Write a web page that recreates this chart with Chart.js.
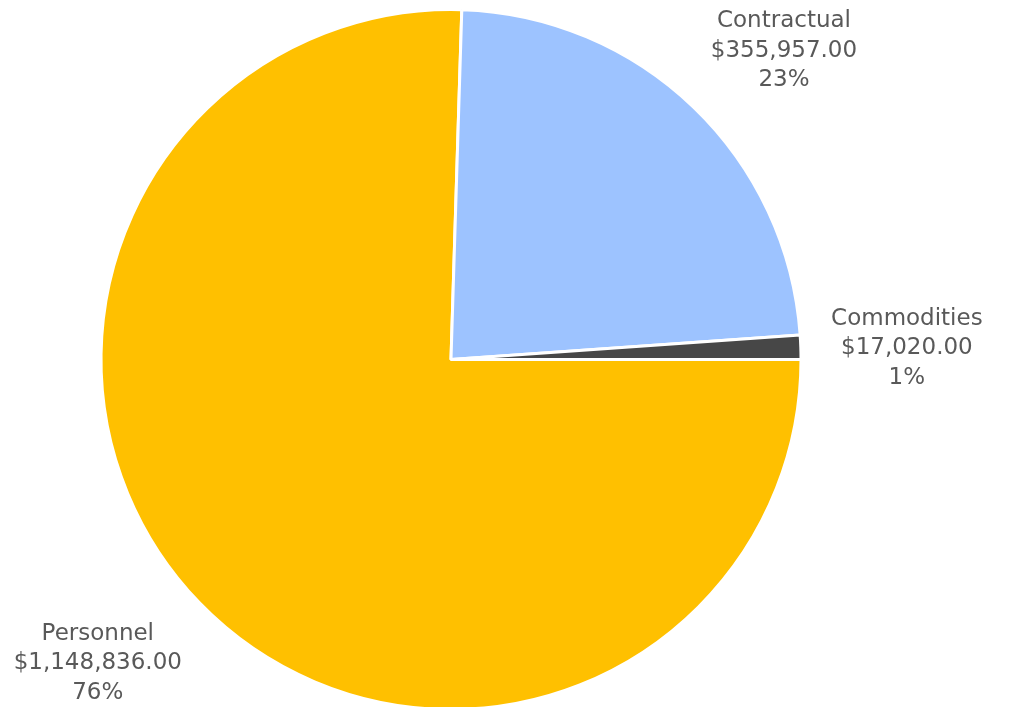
<!DOCTYPE html>
<html>
<head>
<meta charset="utf-8">
<script src="https://cdn.jsdelivr.net/npm/chart.js@4"></script>
<style>
  html, body { margin: 0; padding: 0; background: #fff; overflow: hidden; }
  #wrap { width: 1012px; height: 711px; }
</style>
</head>
<body>
<div id="wrap"><canvas id="pie"></canvas></div>
<script>
// datos
const categories = ['Personnel', 'Contractual', 'Commodities'];
const amounts = [1148836, 355957, 17020];
const pctLabels = ['76%', '23%', '1%'];
const sliceColors = ['#FFC000', '#9DC3FF', '#474747'];

// ajuste de posicion de cada etiqueta (grados, px fuera del borde)
const labelNudge = [3.4, 3.3, 0.6];
const labelGap = [116, 104, 106];

function money(v) {
    return '$' + v.toLocaleString('en-US', { minimumFractionDigits: 2, maximumFractionDigits: 2 });
}

// etiquetas afuera de la torta (como Excel)
const outsideLabels = {
    id: 'outsideLabels',
    afterDatasetsDraw(chart) {
        const ctx = chart.ctx;
        const meta = chart.getDatasetMeta(0);
        ctx.save();
        ctx.font = '23px "DejaVu Sans"';
        ctx.fillStyle = '#595959';
        ctx.textAlign = 'center';
        ctx.textBaseline = 'middle';
        meta.data.forEach((arc, i) => {
            const p = arc.getProps(['x', 'y', 'startAngle', 'endAngle', 'outerRadius'], true);
            const mid = (p.startAngle + p.endAngle) / 2 + labelNudge[i] * Math.PI / 180;
            const r = p.outerRadius + labelGap[i];
            const x = p.x + Math.cos(mid) * r;
            const y = p.y + Math.sin(mid) * r;
            const lines = [categories[i], money(amounts[i]), pctLabels[i]];
            lines.forEach((t, k) => ctx.fillText(t, x, y + (k - 1) * 29.5));
        });
        ctx.restore();
    }
};

new Chart(document.getElementById('pie'), {
    type: 'pie',
    data: {
        labels: categories,
        datasets: [{
            data: amounts,
            backgroundColor: sliceColors,
            borderColor: '#ffffff',
            borderWidth: 3
        }]
    },
    options: {
        responsive: true,
        maintainAspectRatio: false,
        animation: false,
        rotation: 90,
        layout: { padding: { top: 8, bottom: 0, left: 0, right: 110 } },
        plugins: {
            legend: { display: false },
            tooltip: { enabled: false }
        }
    },
    plugins: [outsideLabels]
});
</script>
</body>
</html>
